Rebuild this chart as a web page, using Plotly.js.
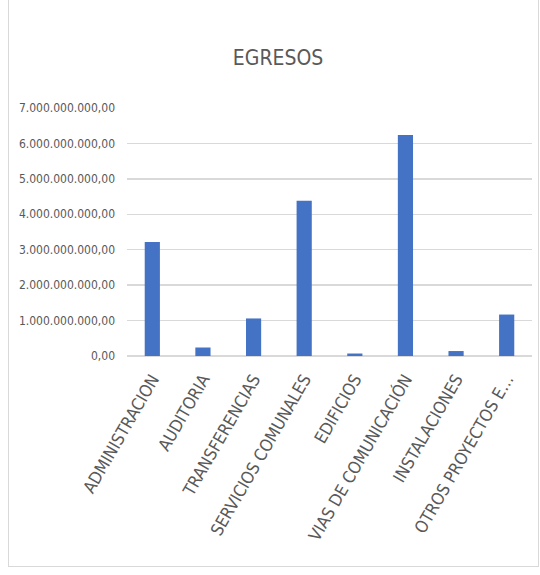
<!DOCTYPE html>
<html>
<head>
<meta charset="utf-8">
<script src="https://cdn.plot.ly/plotly-3.0.1.min.js"></script>
<style>
html,body{margin:0;padding:0;background:#fff;}
#frame{position:absolute;left:8px;top:-1px;width:531px;height:568px;border:1px solid #d9d9d9;box-sizing:border-box;pointer-events:none;z-index:5;}
#chart{position:absolute;left:0;top:0;width:540px;height:575px;}
</style>
</head>
<body>
<div id="chart"></div>
<div id="frame"></div>
<script>
const categories = ["ADMINISTRACION","AUDITORIA","TRANSFERENCIAS","SERVICIOS COMUNALES","EDIFICIOS","VIAS DE COMUNICACIÓN","INSTALACIONES","OTROS PROYECTOS E…"];
const egresos = [3220000000, 240000000, 1060000000, 4380000000, 70000000, 6240000000, 140000000, 1170000000];
const chartTitle = "EGRESOS";

const trace = {
  type: "bar",
  x: categories,
  y: egresos,
  marker: {color: "#4472c4", line: {color: "#4472c4", width: 0}},
  hoverinfo: "x+y"
};

const narrow = "Liberation Sans Narrow, DejaVu Sans Condensed, sans-serif";

const layout = {
  width: 540,
  height: 575,
  margin: {l: 127, r: 8, t: 108, b: 219, pad: 0},
  paper_bgcolor: "rgba(0,0,0,0)",
  plot_bgcolor: "#ffffff",
  separators: ",.",
  bargap: 0.7,
  showlegend: false,
  title: {
    text: chartTitle,
    x: 0.515, xref: "container", xanchor: "center",
    y: 0.9, yref: "container", yanchor: "middle",
    font: {family: narrow, size: 21, color: "#595959"}
  },
  xaxis: {
    type: "category",
    tickangle: -60,
    ticks: "",
    showline: false,
    showgrid: false,
    ticklabelstandoff: 9,
    tickfont: {family: narrow, size: 17, color: "#595959"}
  },
  yaxis: {
    range: [0, 7000000000],
    dtick: 1000000000,
    tick0: 0,
    tickformat: ",.2f",
    ticks: "",
    showline: false,
    gridcolor: "#d9d9d9",
    gridwidth: 1.5,
    zeroline: true,
    zerolinecolor: "#d9d9d9",
    zerolinewidth: 1.5,
    ticklabelstandoff: 11,
    tickfont: {family: narrow, size: 12, color: "#595959"}
  }
};

Plotly.newPlot("chart", [trace], layout, {displayModeBar: false, staticPlot: true});
</script>
</body>
</html>
